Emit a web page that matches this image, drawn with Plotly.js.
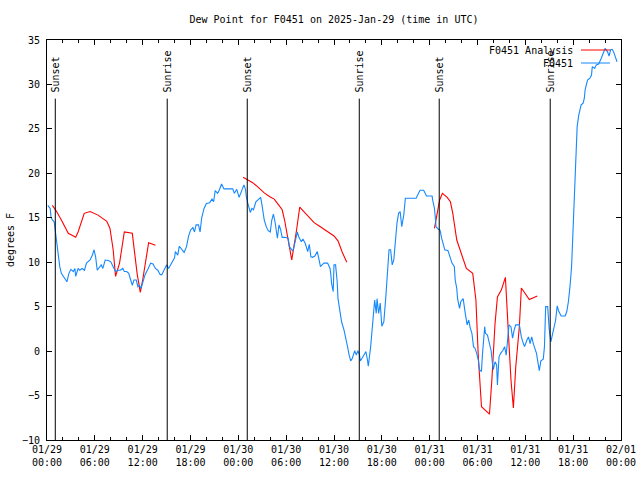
<!DOCTYPE html>
<html>
<head>
<meta charset="utf-8">
<script src="https://cdn.plot.ly/plotly-3.0.1.min.js"></script>
<style>html,body{margin:0;padding:0;background:#fff;}#chart{width:640px;height:480px;}</style>
</head>
<body>
<div id="chart"></div>
<script>
// ---- data (hours after 2025-01-29 00:00 UTC) ----
const analysisHours = [
  0.67,1.2,1.8,2.67,3.6,3.9,4.67,5.4,6.4,7.5,7.9,8.3,8.6,9.1,9.7,10.7,11.0,11.3,11.7,12.0,12.75,13.6,
  null,
  24.6,25.2,25.8,26.4,27.25,27.9,28.5,29.1,29.5,29.8,30.1,30.4,30.7,31.0,31.3,31.7,32.25,32.9,33.5,34.1,34.75,35.4,36.0,36.5,37.0,37.6,
  null,
  48.6,48.9,49.25,49.6,50.2,50.6,50.9,51.4,52.1,52.6,53.4,53.8,54.1,54.5,55.5,55.8,56.2,56.5,57.0,57.5,57.9,58.2,58.5,58.8,59.25,59.5,60.5,61.5
];
const analysisDew = [
  16.4,15.7,14.75,13.25,12.8,13.4,15.5,15.7,15.3,14.6,13.8,11.4,8.4,9.9,13.4,13.25,11.0,8.75,6.6,8.0,12.2,11.9,
  null,
  19.55,19.25,18.95,18.5,17.8,17.4,17.1,16.4,15.9,14.75,13.4,11.75,10.25,11.75,13.6,16.2,15.7,15.1,14.45,14.1,13.7,13.3,12.95,12.4,11.2,10.0,
  null,
  13.8,15.1,17.0,17.75,17.3,16.8,15.5,12.5,10.6,9.3,8.75,5.75,-0.6,-6.25,-7.1,-3.25,3.1,6.1,6.9,8.3,1.6,-3.25,-6.4,-1.75,2.75,7.1,5.8,6.2
];
const obsHours = [
  0.1,0.4,0.5,0.67,0.9,1.0,1.1,1.25,1.4,1.6,1.8,2.2,2.5,2.75,3.0,3.3,3.5,3.6,3.9,4.1,4.4,4.7,4.95,5.4,5.7,5.9,
  6.1,6.3,6.6,6.8,7.0,7.3,7.7,8.0,8.3,8.6,8.9,9.2,9.5,9.7,10.0,10.25,10.5,10.7,10.9,11.2,11.4,11.6,11.8,
  12.1,12.3,12.7,13.0,13.3,13.6,13.9,14.2,14.4,14.7,14.8,15.0,15.25,15.6,16.0,16.1,16.4,16.6,16.9,17.2,17.5,17.75,
  18.0,18.3,18.5,18.7,19.0,19.2,19.4,19.7,20.0,20.4,20.7,20.9,21.1,21.4,21.6,21.9,22.2,22.9,23.3,23.5,23.8,
  24.1,24.4,24.7,24.9,25.0,25.2,25.5,25.7,25.9,26.2,26.5,26.8,27.0,27.25,27.5,27.75,28.0,28.2,28.4,28.6,28.9,
  29.1,29.3,29.5,29.8,30.25,30.4,30.6,30.8,30.9,31.1,31.4,31.6,31.9,32.1,32.4,32.7,32.9,33.1,33.3,33.6,33.9,
  34.1,34.3,34.5,34.75,35.2,35.5,35.6,35.7,35.9,36.0,36.2,36.4,36.5,36.75,36.95,37.25,37.5,37.7,37.9,
  38.1,38.3,38.6,38.8,39.0,39.2,39.3,39.6,39.9,40.0,40.2,40.3,40.6,40.8,41.0,41.1,41.3,41.4,41.6,41.8,
  42.0,42.25,42.5,42.7,42.9,43.1,43.3,43.5,43.7,43.9,44.1,44.3,44.5,44.75,44.95,45.4,45.9,46.3,46.6,46.8,
  47.25,47.6,48.1,48.3,48.4,48.6,48.7,48.8,49.1,49.3,49.5,49.7,49.9,50.3,50.6,50.8,51.1,51.2,51.4,51.5,51.75,51.9,
  52.2,52.4,52.5,52.7,52.9,53.1,53.3,53.5,53.7,53.9,54.1,54.25,54.5,54.6,54.75,54.9,55.0,55.25,55.5,55.7,55.9,
  56.0,56.1,56.2,56.4,56.5,56.7,56.9,57.2,57.4,57.6,57.75,57.95,58.2,58.4,58.6,58.8,59.25,59.5,59.75,59.9,
  60.2,60.4,60.6,60.8,61.0,61.2,61.4,61.6,61.75,61.95,62.25,62.4,62.55,62.8,63.0,63.2,63.5,63.8,
  64.0,64.2,64.5,65.0,65.2,65.4,65.6,65.8,66.0,66.1,66.2,66.3,66.4,66.5,66.7,66.8,67.0,67.25,67.4,67.5,67.8,
  68.1,68.3,68.4,68.7,68.9,69.2,69.5,69.75,70.0,70.3,70.5,70.7,70.9,71.1,71.3,71.5
];
const obsDew = [
  16.4,16.05,15.1,14.75,14.55,13.8,12.7,11.75,10.4,9.5,8.75,8.2,7.8,8.75,9.2,8.95,9.3,8.4,9.3,9.1,9.3,9.1,9.9,10.25,10.8,11.4,
  10.6,9.1,9.5,9.7,9.3,10.25,10.2,10.05,9.5,8.95,9.1,9.1,9.3,8.95,8.95,8.75,8.0,7.4,8.0,8.0,7.25,7.4,7.05,
  8.0,8.6,9.3,9.9,9.8,9.3,9.1,8.6,8.6,9.1,9.3,9.7,9.3,9.9,10.5,11.2,10.8,11.8,11.45,11.1,11.75,12.9,
  13.6,13.9,13.4,14.2,14.2,13.4,14.95,16.05,16.6,16.7,17.1,16.8,18.05,17.75,18.1,18.8,18.25,18.25,18.25,17.75,18.2,
  17.3,17.95,18.7,18.2,17.4,16.6,15.6,16.05,15.9,16.8,17.0,17.3,16.25,14.75,14.0,13.55,13.4,14.75,15.4,14.55,12.7,
  14.2,13.7,12.8,12.8,12.7,11.75,11.55,11.3,11.4,12.3,13.4,12.8,12.3,12.6,12.1,11.2,12.0,10.6,10.55,10.7,11.2,
  10.4,9.5,9.7,9.9,9.9,9.3,8.6,7.6,6.7,9.7,9.7,7.8,5.9,4.25,3.3,2.4,1.45,0.5,-0.45,
  -1.1,-0.8,0.05,-0.45,0.05,-0.45,-1.1,-0.7,-0.3,-0.05,-1.0,-1.7,0.5,2.55,4.25,5.75,4.25,5.9,4.25,5.4,
  2.8,3.3,6.1,8.4,11.4,11.4,9.7,10.25,12.5,14.4,15.5,15.7,14.0,15.3,17.2,17.2,17.2,17.2,17.75,18.1,
  18.1,17.45,17.45,17.45,16.9,16.05,15.1,14.0,13.7,13.6,12.7,11.95,11.4,11.3,10.6,9.9,9.5,8.0,7.05,5.9,4.8,5.55,
  5.9,4.95,4.05,2.95,3.5,2.55,2.0,0.5,0.3,-0.25,-1.0,-2.1,-2.3,-0.65,1.6,2.75,2.0,1.8,0.85,0.1,-1.55,
  -2.1,-1.55,-1.2,-1.55,-3.8,-0.65,-0.25,0.1,0.5,-0.45,1.25,2.95,2.75,1.45,2.4,2.95,2.95,1.6,0.85,0.5,
  1.25,1.6,0.85,1.6,0.85,0.3,-0.25,-1.37,-2.2,-1.1,-0.9,0.5,5.0,5.0,2.4,1.05,2.4,3.5,
  5.1,4.45,3.95,3.95,4.45,5.55,7.25,9.5,14.0,16.6,19.25,22.25,23.75,25.25,26.55,27.1,27.7,27.9,28.45,29.4,30.5,
  30.7,31.05,32.0,31.8,32.2,32.3,32.9,33.5,34.05,33.7,33.2,33.9,33.95,33.6,33.1,32.55
];
const tickHours = [0,6,12,18,24,30,36,42,48,54,60,66,72];
const tickLabels = ['01/29<br>00:00','01/29<br>06:00','01/29<br>12:00','01/29<br>18:00',
  '01/30<br>00:00','01/30<br>06:00','01/30<br>12:00','01/30<br>18:00',
  '01/31<br>00:00','01/31<br>06:00','01/31<br>12:00','01/31<br>18:00','02/01<br>00:00'];
const sunHours = [1.04,15.08,25.12,39.17,49.2,63.12];
const sunLabels = ['Sunset','Sunrise','Sunset','Sunrise','Sunset','Sunrise'];
const seriesNames = ['F0451 Analysis','F0451'];
const seriesColors = ['#ff0000','#1488ff'];

const FONT = 'DejaVu Sans Mono, monospace';
const traces = [
  {x: analysisHours, y: analysisDew, name: seriesNames[0], type: 'scatter', mode: 'lines',
   line: {color: seriesColors[0], width: 1.1}, connectgaps: false},
  {x: obsHours, y: obsDew, name: seriesNames[1], type: 'scatter', mode: 'lines',
   line: {color: seriesColors[1], width: 1.1}}
];

const shapes = [];
const annotations = [];
sunHours.forEach((h, i) => {
  shapes.push({type: 'line', xref: 'x', yref: 'y', x0: h, x1: h, y0: -10, y1: 28.4,
    line: {color: '#000', width: 1}});
  annotations.push({xref: 'x', yref: 'y', x: h, y: 29.0, text: sunLabels[i], textangle: -90,
    xanchor: 'center', yanchor: 'bottom', showarrow: false, borderpad: 0,
    font: {family: FONT, size: 10, color: '#000'}});
});
// legend drawn gnuplot-style (text right, sample line to its right)
seriesNames.forEach((n, i) => {
  const yy = 0.975 - i * 0.0325;
  annotations.push({xref: 'paper', yref: 'paper', x: 0.918, y: yy, text: n, xanchor: 'right',
    yanchor: 'middle', showarrow: false, borderpad: 0, font: {family: FONT, size: 10, color: '#000'}});
  shapes.push({type: 'line', xref: 'paper', yref: 'paper', x0: 0.9303, x1: 0.9808, y0: yy, y1: yy,
    line: {color: seriesColors[i], width: 1}});
});

const layout = {
  width: 640, height: 480,
  margin: {l: 47, r: 19, t: 40, b: 40},
  paper_bgcolor: '#fff', plot_bgcolor: '#fff',
  showlegend: false,
  font: {family: FONT, size: 10, color: '#000'},
  title: {text: 'Dew Point for F0451 on 2025-Jan-29 (time in UTC)', xref: 'paper', x: 0.5,
    y: 0.96, yanchor: 'middle', font: {family: FONT, size: 10, color: '#000'}},
  xaxis: {range: [0, 72], tickmode: 'array', tickvals: tickHours, ticktext: tickLabels,
    ticks: 'inside', ticklen: 5, tickcolor: '#000', tickwidth: 1,
    showline: true, linecolor: '#000', linewidth: 1, mirror: 'allticks',
    showgrid: false, zeroline: false,
    minor: {tickmode: 'linear', tick0: 0, dtick: 2, ticks: 'inside', ticklen: 3, tickcolor: '#000', showgrid: false},
    tickfont: {family: FONT, size: 10, color: '#000'}},
  yaxis: {range: [-10, 35], tickmode: 'linear', tick0: -10, dtick: 5,
    ticks: 'inside', ticklen: 5, tickcolor: '#000', tickwidth: 1,
    showline: true, linecolor: '#000', linewidth: 1, mirror: 'allticks',
    showgrid: false, zeroline: false, ticklabelstandoff: 4,
    tickfont: {family: FONT, size: 10, color: '#000'},
    title: {text: 'degrees F', standoff: 5, font: {family: FONT, size: 10, color: '#000'}}},
  shapes: shapes,
  annotations: annotations
};

Plotly.newPlot('chart', traces, layout, {displayModeBar: false, staticPlot: true});
</script>
</body>
</html>
